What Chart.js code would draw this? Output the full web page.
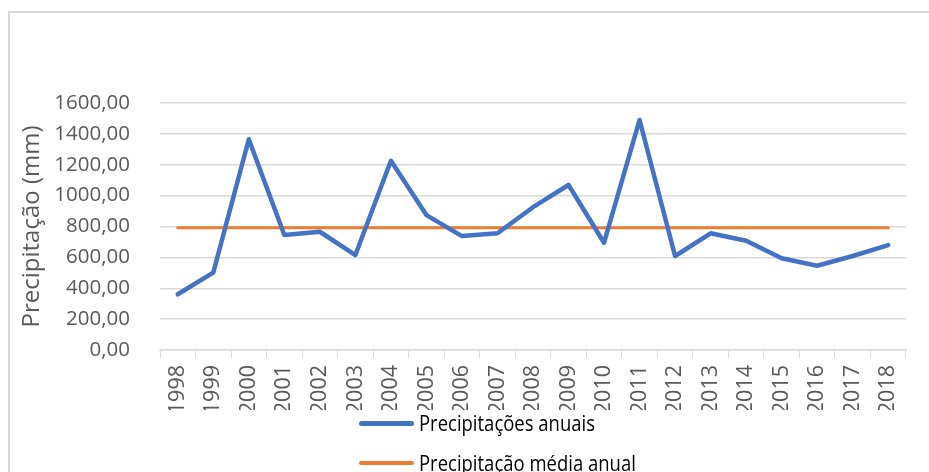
<!DOCTYPE html>
<html lang="pt">
<head>
<meta charset="utf-8">
<script src="https://cdn.jsdelivr.net/npm/chart.js@4/dist/chart.umd.min.js"></script>
<style>
    html, body { margin: 0; padding: 0; background: #fff; }
    #wrap { position: relative; width: 929px; height: 472px; overflow: hidden; }
    #frame { position: absolute; left: 8px; top: 11px; width: 940px; height: 480px; border-left: 2px solid #d9d9d9; border-top: 2px solid #d9d9d9; box-sizing: border-box; }
    #grafico { position: absolute; left: 0; top: 0; }
    .leg { position: absolute; left: 359px; height: 30px; display: flex; align-items: center; font-family: "Open Sans", sans-serif; font-size: 21px; color: #000; white-space: nowrap; }
    .leg .amostra { width: 55px; border-radius: 3px; margin-right: 5px; }
    .leg .texto { display: inline-block; transform: scaleX(0.88); transform-origin: left center; }
</style>
</head>
<body>
<div id="wrap">
    <div id="frame"></div>
    <canvas id="grafico" width="929" height="472"></canvas>
    <div id="legenda"></div>
</div>
<script>
// Dados
const anos = ['1998', '1999', '2000', '2001', '2002', '2003', '2004', '2005', '2006', '2007', '2008',
    '2009', '2010', '2011', '2012', '2013', '2014', '2015', '2016', '2017', '2018'];
const precipitacaoAnual = [361, 501, 1365, 745, 766, 615, 1226, 874, 738, 756, 925,
    1069, 695, 1490, 609, 756, 708, 594, 546, 609, 680];
const precipitacaoMedia = [792, 792, 792, 792, 792, 792, 792, 792, 792, 792, 792,
    792, 792, 792, 792, 792, 792, 792, 792, 792, 792];
const yTicks = [0, 200, 400, 600, 800, 1000, 1200, 1400, 1600];

const cinzaTexto = '#595959';
const cinzaGrade = '#d9d9d9';
const fonte = 'Open Sans';

const ctx = document.getElementById('grafico');
const grafico = new Chart(ctx, {
    type: 'line',
    data: {
        labels: anos,
        datasets: [
            {
                label: 'Precipitações anuais',
                data: precipitacaoAnual,
                borderColor: '#4472C4',
                borderWidth: 4.5,
                pointRadius: 0,
                tension: 0,
                borderCapStyle: 'round',
                borderJoinStyle: 'round'
            },
            {
                label: 'Precipitação média anual',
                data: precipitacaoMedia,
                borderColor: '#ED7D31',
                borderWidth: 3,
                pointRadius: 0,
                tension: 0,
                borderCapStyle: 'round'
            }
        ]
    },
    options: {
        responsive: false,
        animation: false,
        layout: { padding: { top: 103, left: 0, right: 23, bottom: 62 } },
        plugins: {
            legend: { display: false },
            tooltip: { enabled: false }
        },
        scales: {
            x: {
                offset: true,
                afterFit: function (scale) { scale.height = 60; },
                grid: {
                    offset: true,
                    drawOnChartArea: false,
                    drawTicks: true,
                    tickLength: 8,
                    color: cinzaGrade
                },
                border: { color: cinzaGrade, width: 1.5 },
                ticks: {
                    minRotation: 90,
                    maxRotation: 90,
                    autoSkip: false,
                    padding: 7,
                    color: cinzaTexto,
                    font: { family: fonte, size: 21.5 }
                }
            },
            y: {
                min: 0,
                max: 1600,
                afterFit: function (scale) { scale.width = 160; },
                afterBuildTicks: function (scale) {
                    scale.ticks = yTicks.map(v => ({ value: v }));
                },
                grid: { color: cinzaGrade, lineWidth: 1.5, drawTicks: false },
                border: { display: false },
                ticks: {
                    padding: 30,
                    color: cinzaTexto,
                    font: { family: fonte, size: 20.5 },
                    callback: function (value) {
                        return value.toFixed(2).replace('.', ',');
                    }
                },
                title: {
                    display: true,
                    text: 'Precipitação (mm)',
                    color: cinzaTexto,
                    font: { family: fonte, size: 24 },
                    padding: { top: 18, bottom: 0 }
                }
            }
        }
    }
});

// Legenda em HTML, empilhada como no original
const legenda = document.getElementById('legenda');
const posicoesY = [408, 448];
grafico.data.datasets.forEach((ds, i) => {
    const item = document.createElement('div');
    item.className = 'leg';
    item.style.top = posicoesY[i] + 'px';
    const amostra = document.createElement('span');
    amostra.className = 'amostra';
    amostra.style.height = (ds.borderWidth + 0.5) + 'px';
    amostra.style.background = ds.borderColor;
    const texto = document.createElement('span');
    texto.className = 'texto';
    texto.textContent = ds.label;
    item.appendChild(amostra);
    item.appendChild(texto);
    legenda.appendChild(item);
});
</script>
</body>
</html>
